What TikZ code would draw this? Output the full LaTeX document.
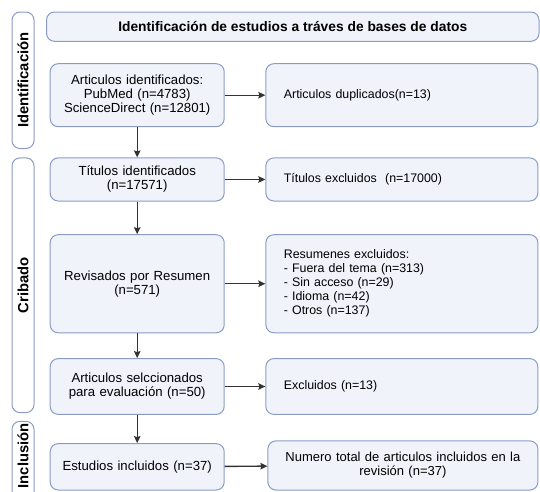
\documentclass[tikz,border=0pt]{standalone}
\usepackage{fontspec}
\setmainfont{Liberation Sans}
\usetikzlibrary{arrows.meta}
\definecolor{boxline}{HTML}{8A9CC6}
\definecolor{boxfill}{HTML}{F0F3FA}
\definecolor{arrowcol}{HTML}{333333}
\begin{document}
\begin{tikzpicture}[>={Stealth[length=7pt,width=6.5pt,inset=1pt]}, x=1pt, y=-1pt,
  box/.style={draw=boxline, fill=boxfill, rounded corners=8pt, line width=1pt},
  leftbox/.style={box, text width=162pt, inner xsep=6pt, align=center,
    font=\fontsize{13.2}{14}\selectfont},
  rightbox/.style={box, text width=236pt, inner xsep=18pt, align=left,
    font=\fontsize{12.4}{14}\selectfont},
  phase/.style={draw=boxline, fill=white, rounded corners=8pt, line width=1pt,
    rotate=90, minimum height=22pt, inner sep=0pt, font=\bfseries\fontsize{14.8}{15}\selectfont},
  link/.style={->, draw=arrowcol, line width=1.4pt}]
\clip (0,0) rectangle (540,491);

% === Phases ===
\node[phase, minimum width=136.5pt] (Phase-1) at (23,80.25) {Identificación};
\node[phase, minimum width=254.7pt] (Phase-2) at (23,285.25) {Cribado};
\node[phase, minimum width=80pt] (Phase-3) at (23,461.3) {\hspace*{11pt}Inclusión};

% === Title ===
\node[box, minimum width=492.5pt, minimum height=29.3pt, font=\bfseries\fontsize{13.8}{15}\selectfont]
  (Title) at (292.75,26.65) {Identificación de estudios a tráves de bases de datos};

% === Left column ===
\node[leftbox, minimum height=63pt] (Left-1) at (137.2,95.2)
  {Articulos identificados:\\PubMed (n=4783)\\ScienceDirect (n=12801)};
\node[leftbox, minimum height=43.1pt] (Left-2) at (137.2,179.45)
  {Títulos identificados\\(n=17571)};
\node[leftbox, minimum height=98.1pt] (Left-3) at (137.2,283.75)
  {Revisados por Resumen\\(n=571)};
\node[leftbox, minimum height=55.8pt] (Left-4) at (137.2,386.5)
  {Articulos selccionados\\para evaluación (n=50)};
\node[leftbox, minimum height=46.4pt] (Left-5) at (137.2,466.8)
  {Estudios incluidos (n=37)};

% === Right column ===
\node[rightbox, minimum height=63pt] (Right-1) at (401.85,95.2)
  {Articulos duplicados(n=13)};
\node[rightbox, minimum height=43.1pt] (Right-2) at (401.85,179.45)
  {Títulos excluidos~ (n=17000)};
\node[rightbox, minimum height=98.1pt] (Right-3) at (401.85,283.75)
  {Resumenes excluidos:\\- Fuera del tema (n=313)\\- Sin acceso (n=29)\\- Idioma (n=42)\\- Otros (n=137)};
\node[rightbox, minimum height=55.8pt] (Right-4) at (401.85,386.5)
  {Excluidos (n=13)};
\node[box, text width=258pt, inner xsep=6pt, align=center, minimum height=49.1pt,
  font=\fontsize{13}{14}\selectfont] (Right-5) at (402.9,465.45)
  {Numero total de articulos incluidos en la\\revisión (n=37)};

% === Connections ===
% Left -> Left
\foreach \i/\j in {1/2,2/3,3/4,4/5}{
  \draw[link] (Left-\i) -- (Left-\j);
}
% Left -> Right
\foreach \i in {1,...,5}{
  \draw[link] (Left-\i) -- (Right-\i);
}
\end{tikzpicture}
\end{document}
